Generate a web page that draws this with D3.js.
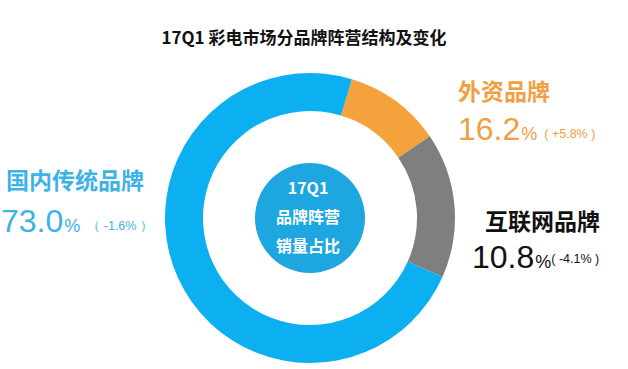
<!DOCTYPE html>
<html>
<head>
<meta charset="utf-8">
<script src="https://cdn.jsdelivr.net/npm/d3@7"></script>
<style>
  body { margin: 0; background: #fff; }
  svg { display: block; }
  .cjk { font-family: "Noto Sans CJK SC", "Noto Sans", sans-serif; }
  .num { font-family: "Liberation Sans", Arial, sans-serif; }
</style>
</head>
<body>
<div id="container"></div>
<script>
const w = 628;
const h = 369;

// legend / label data
const brands = ['外资品牌', '互联网品牌', '国内传统品牌'];
const shares = ['16.2', '10.8', '73.0'];
const changes = ['( +5.8% )', '( -4.1% )', '（ -1.6% ）'];
const labelColors = ['#f0a042', '#111111', '#3cb2e8'];

// ring segments as drawn in the picture (clockwise from ~17deg)
const ringNames = ['外资品牌', '互联网品牌', '国内传统品牌'];
const ringValues = [10.8, 16.2, 73.0];
const ringColors = ['#f4a23c', '#7f7f7f', '#0cb0f0'];

const centerLines = ['17Q1', '品牌阵营', '销量占比'];

const svg = d3.select('#container')
  .append('svg')
    .attr('width', w)
    .attr('height', h)
    .attr('viewBox', [0, 0, w, h]);

svg.append('text')
  .attr('class', 'cjk')
  .attr('x', 304)
  .attr('y', 44)
  .attr('text-anchor', 'middle')
  .style('font-size', '17px')
  .style('font-weight', 'bold')
  .style('fill', '#111')
  .text('17Q1 彩电市场分品牌阵营结构及变化');

const cx = 310, cy = 218;

const pie = d3.pie()
  .sort(null)
  .value(d => d)
  .startAngle(16.8 * Math.PI / 180)
  .endAngle(16.8 * Math.PI / 180 + 2 * Math.PI);

const arc = d3.arc()
  .innerRadius(107)
  .outerRadius(145);

const ring = svg.append('g')
  .attr('transform', `translate(${cx}, ${cy})`);

ring.selectAll('path')
  .data(pie(ringValues))
  .enter()
  .append('path')
  .attr('d', arc)
  .attr('fill', (d, i) => ringColors[i])
  .attr('data-name', (d, i) => ringNames[i]);

ring.append('circle')
  .attr('r', 55)
  .attr('fill', '#1ea6e0');

ring.selectAll('text.center')
  .data(centerLines)
  .enter()
  .append('text')
  .attr('class', 'center cjk')
  .attr('x', -2)
  .attr('y', (d, i) => -31 + i * 29)
  .attr('text-anchor', 'middle')
  .attr('dominant-baseline', 'central')
  .style('font-size', '16px')
  .style('font-weight', 'bold')
  .style('fill', '#fff')
  .text(d => d);

// label layout: name centre y, number baseline, x start
const layout = [
  { x: 458, nameY: 90, numY: 140, nameSize: 23 },
  { x: 485, nameY: 220, numY: 268, nameSize: 23, numX: 472, raise: 5 },
  { x: 6, nameY: 179, numY: 232, nameSize: 23, numX: 1 }
];

brands.forEach((b, i) => {
  const L = layout[i];
  const g = svg.append('g');
  g.append('text')
    .attr('class', 'cjk')
    .attr('x', L.x)
    .attr('y', L.nameY)
    .attr('dominant-baseline', 'central')
    .style('font-size', L.nameSize + 'px')
    .style('font-weight', 'bold')
    .style('fill', labelColors[i])
    .text(b);

  const t = g.append('text')
    .attr('class', 'num')
    .attr('x', L.numX !== undefined ? L.numX : L.x)
    .attr('y', L.numY)
    .style('fill', labelColors[i]);
  t.append('tspan')
    .style('font-size', '32px')
    .style('font-weight', '300')
    .text(shares[i]);
  t.append('tspan')
    .style('font-size', '18px')
    .attr('dx', 1)
    .text('%');
  t.append('tspan')
    .style('font-size', '12.5px')
    .attr('dx', L.raise ? 0 : 7)
    .attr('dy', L.raise ? -(L.raise) : -2)
    .text(changes[i]);
});
</script>
</body>
</html>
